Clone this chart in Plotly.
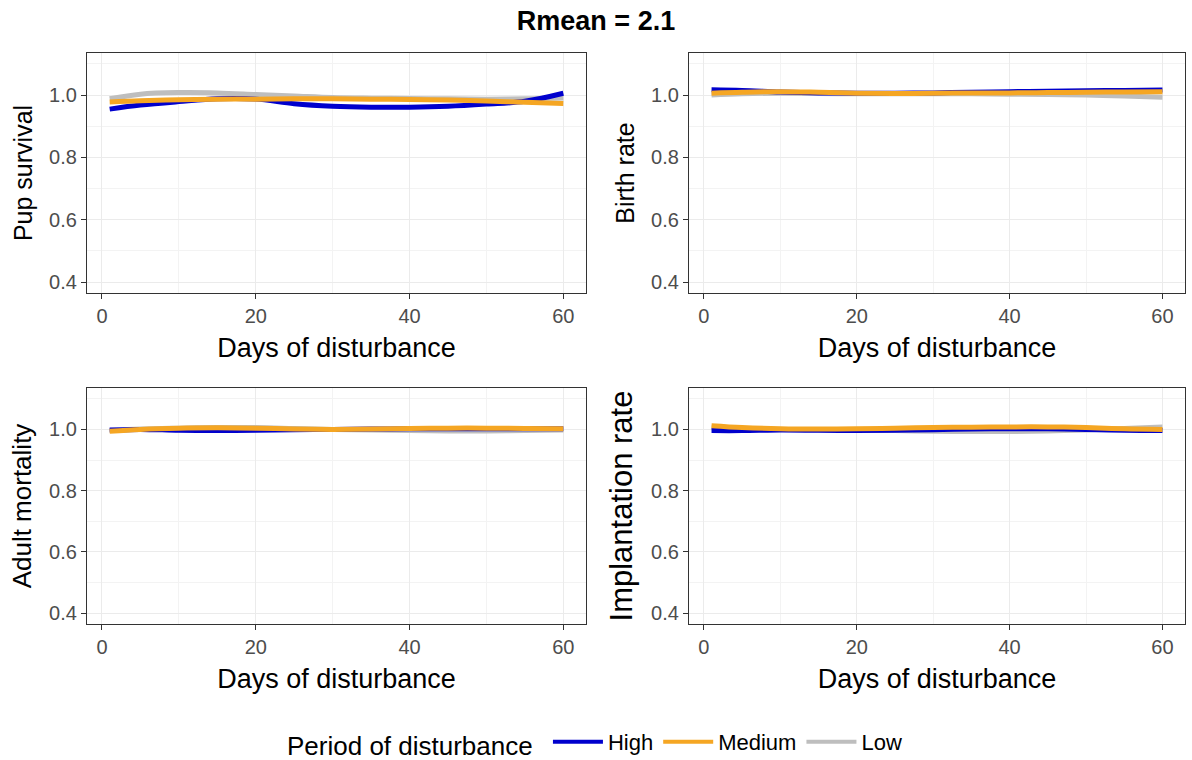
import plotly.graph_objects as go
from plotly.subplots import make_subplots

days = [1, 5, 10, 15, 20, 25, 30, 35, 40, 45, 50, 55, 60]
series_names = ["High", "Medium", "Low"]

pup_high = [0.955, 0.968, 0.979, 0.988, 0.987, 0.972, 0.964, 0.961, 0.961, 0.964, 0.971, 0.980, 1.006]
pup_medium = [0.978, 0.982, 0.985, 0.987, 0.987, 0.988, 0.988, 0.987, 0.986, 0.984, 0.981, 0.977, 0.973]
pup_low = [0.988, 1.003, 1.008, 1.007, 1.002, 0.997, 0.992, 0.990, 0.989, 0.988, 0.987, 0.988, 0.991]

birth_high = [1.017, 1.015, 1.010, 1.007, 1.006, 1.006, 1.007, 1.009, 1.011, 1.012, 1.014, 1.015, 1.016]
birth_medium = [1.006, 1.009, 1.011, 1.009, 1.006, 1.005, 1.006, 1.007, 1.007, 1.008, 1.009, 1.010, 1.011]
birth_low = [1.000, 1.004, 1.006, 1.005, 1.004, 1.004, 1.004, 1.004, 1.003, 1.002, 1.000, 0.997, 0.993]

adult_high = [0.998, 1.000, 0.997, 0.996, 0.997, 0.999, 1.000, 1.001, 1.002, 1.002, 1.002, 1.002, 1.002]
adult_medium = [0.994, 1.000, 1.004, 1.005, 1.004, 1.001, 1.000, 1.001, 1.003, 1.004, 1.004, 1.003, 1.002]
adult_low = [0.996, 1.001, 1.004, 1.006, 1.006, 1.003, 1.000, 0.998, 0.996, 0.995, 0.995, 0.996, 0.998]

impl_high = [0.996, 0.996, 0.998, 0.997, 0.996, 0.997, 0.999, 1.001, 1.002, 1.002, 1.000, 0.997, 0.996]
impl_medium = [1.012, 1.006, 1.002, 1.001, 1.002, 1.004, 1.006, 1.007, 1.008, 1.008, 1.006, 1.002, 1.000]
impl_low = [1.005, 1.002, 1.000, 0.999, 0.998, 0.996, 0.994, 0.993, 0.993, 0.995, 0.998, 1.003, 1.008]

panel_titles = ["Pup survival", "Birth rate", "Adult mortality", "Implantation rate"]
panel_title_sizes = [25, 25, 26, 31]
panel_data = [
    {"High": pup_high, "Medium": pup_medium, "Low": pup_low},
    {"High": birth_high, "Medium": birth_medium, "Low": birth_low},
    {"High": adult_high, "Medium": adult_medium, "Low": adult_low},
    {"High": impl_high, "Medium": impl_medium, "Low": impl_low},
]
y_ticks = [0.4, 0.6, 0.8, 1.0]
x_ticks = [0, 20, 40, 60]

colors = {"High": "#0000CD", "Medium": "#F5A623", "Low": "#BEBEBE"}
draw_order = ["Low", "High", "Medium"]
FONT = "Liberation Sans, Arial, sans-serif"

fig = make_subplots(rows=2, cols=2)

positions = [(1, 1), (1, 2), (2, 1), (2, 2)]
for i, (r, c) in enumerate(positions):
    for name in draw_order:
        fig.add_trace(
            go.Scatter(
                x=days, y=panel_data[i][name], mode="lines", name=name,
                line=dict(color=colors[name], width=5, shape="spline", smoothing=1.0),
                showlegend=False,
            ),
            row=r, col=c,
        )

# legend entries (ordered High, Medium, Low)
for k, name in enumerate(series_names):
    fig.add_trace(
        go.Scatter(x=[None], y=[None], mode="lines", name=name,
                   line=dict(color=colors[name], width=4), showlegend=True,
                   legendrank=k + 1),
        row=1, col=1,
    )

x_domains = {1: [87 / 1192, 586 / 1192], 2: [689 / 1192, 1185 / 1192]}
y_domains = {1: [1 - 293 / 760, 1 - 53 / 760], 2: [1 - 624 / 760, 1 - 388 / 760]}

axis_common = dict(
    showline=True, linecolor="#333333", linewidth=1.2, mirror=True,
    ticks="outside", ticklen=5, tickwidth=1.1, tickcolor="#333333",
    tickfont=dict(family=FONT, size=20, color="#4D4D4D"),
    showgrid=True, gridcolor="#EBEBEB", gridwidth=1.2, zeroline=False,
)

for i, (r, c) in enumerate(positions):
    fig.update_xaxes(
        **axis_common, range=[-1.95, 62.95], tickvals=x_ticks,
        minor=dict(dtick=10, tick0=0, showgrid=True, gridcolor="#F3F3F3", gridwidth=0.7, ticks=""),
        title=dict(text="Days of disturbance", standoff=12,
                   font=dict(family=FONT, size=27, color="#000000")),
        domain=x_domains[c], row=r, col=c,
    )
    fig.update_yaxes(
        **axis_common, range=[0.365, 1.135], tickvals=y_ticks,
        ticktext=[f"{v:.1f}" for v in y_ticks],
        minor=dict(dtick=0.1, tick0=0.5, showgrid=True, gridcolor="#F3F3F3", gridwidth=0.7, ticks=""),
        title=dict(text=panel_titles[i], standoff=9,
                   font=dict(family=FONT, size=panel_title_sizes[i], color="#000000")),
        domain=y_domains[r], row=r, col=c,
    )

fig.update_layout(
    width=1192, height=760,
    margin=dict(l=0, r=0, t=0, b=0, autoexpand=False),
    paper_bgcolor="white", plot_bgcolor="white",
    title=dict(text="<b>Rmean = 2.1</b>", x=0.5, xanchor="center", y=1 - 21 / 760, yanchor="middle",
               font=dict(family=FONT, size=27, color="#000000")),
    legend=dict(
        orientation="h", x=0.5, xanchor="center", y=1 - 743 / 760, yanchor="middle",
        title=dict(text="Period of disturbance ", side="left",
                   font=dict(family=FONT, size=26, color="#000000")),
        font=dict(family=FONT, size=22, color="#000000"),
        traceorder="normal", itemwidth=50,
    ),
)

fig.write_html("out.html")
